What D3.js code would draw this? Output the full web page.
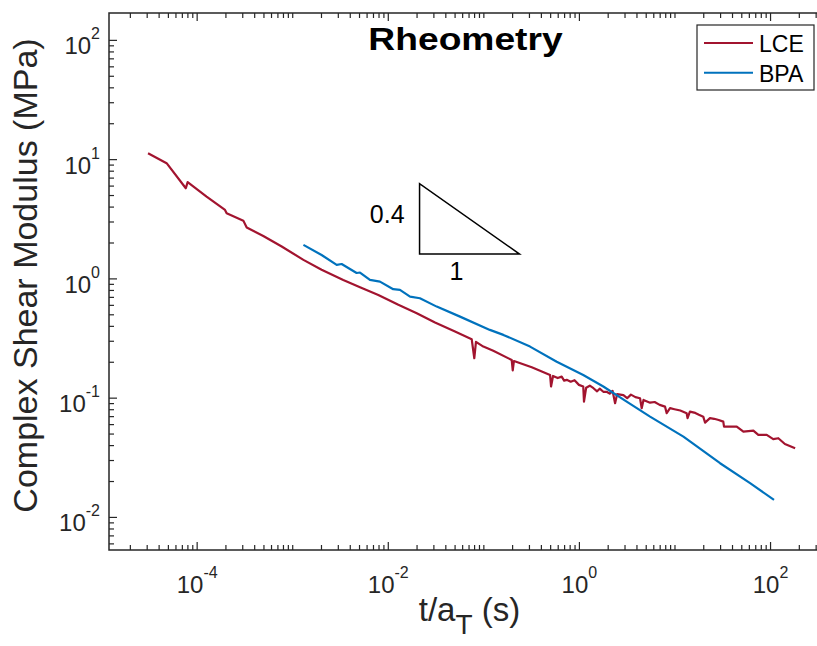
<!DOCTYPE html>
<html>
<head>
<meta charset="utf-8">
<script src="https://cdn.jsdelivr.net/npm/d3@7"></script>
<style>
  body { margin: 0; background: white; }
</style>
</head>
<body>
<script>
// data (t/aT in s, modulus in MPa)
var lceT = [3.1e-5, 4.85e-5, 7.7e-5, 8.05e-5, 1.27e-4, 1.98e-4, 2.06e-4, 3.08e-4, 3.34e-4, 4.98e-4,
    7.76e-4, 1.31e-3, 2.03e-3, 3.42e-3, 5.12e-3, 7.96e-3, 0.0129, 0.0201, 0.0312, 0.0505,
    0.0755, 0.0804, 0.0837, 0.100, 0.127, 0.198, 0.203, 0.209, 0.321, 0.499,
    0.511, 0.536, 0.60, 0.66, 0.70, 0.745, 0.82, 0.90, 1.0, 1.11,
    1.13, 1.19, 1.3, 1.42, 1.55, 1.65, 1.80, 1.95, 2.1, 2.25,
    2.39, 2.51, 2.92, 3.2, 3.5, 3.9, 4.36, 4.54, 4.74, 5.55,
    6.2, 7.0, 7.96, 8.29, 8.98, 10, 11.5, 13.4, 13.7, 14.5,
    16.5, 18, 20.0, 20.9, 23.5, 26, 29, 32.4, 33.0, 44.8,
    52.6, 66.9, 75.4, 92.3, 108, 122, 143, 183];
var lceG = [11.2, 9.25, 5.70, 6.41, 4.85, 3.75, 3.52, 3.05, 2.67, 2.27,
    1.85, 1.43, 1.18, 0.97, 0.843, 0.727, 0.600, 0.511, 0.426, 0.358,
    0.309, 0.214, 0.294, 0.268, 0.247, 0.207, 0.169, 0.203, 0.180, 0.155,
    0.124, 0.152, 0.146, 0.150, 0.139, 0.141, 0.136, 0.140, 0.128, 0.124,
    0.0927, 0.121, 0.126, 0.120, 0.113, 0.119, 0.112, 0.112, 0.108, 0.114,
    0.0898, 0.107, 0.105, 0.099, 0.106, 0.101, 0.0989, 0.0815, 0.0957, 0.0908,
    0.092, 0.087, 0.0841, 0.0741, 0.0817, 0.080, 0.078, 0.0741, 0.0673, 0.0764,
    0.0745, 0.072, 0.0693, 0.0618, 0.0673, 0.0665, 0.065, 0.0630, 0.0572, 0.0572,
    0.0519, 0.0529, 0.0487, 0.0487, 0.0449, 0.0457, 0.0409, 0.0377];
var bpaT = [1.31e-3, 2.03e-3, 2.92e-3, 3.29e-3, 4.72e-3, 5.12e-3, 6.51e-3, 8.28e-3, 0.0114, 0.0134,
    0.0171, 0.0217, 0.0325, 0.057, 0.117, 0.162, 0.308, 0.586, 1.11, 1.80,
    3.16, 5.55, 12.4, 30.0, 61.8, 110];
var bpaG = [1.91, 1.57, 1.30, 1.32, 1.11, 1.12, 0.971, 0.940, 0.812, 0.801,
    0.704, 0.682, 0.580, 0.478, 0.370, 0.336, 0.268, 0.200, 0.155, 0.124,
    0.0927, 0.0694, 0.0471, 0.0282, 0.0192, 0.0139];

var seriesNames = ["LCE", "BPA"];
var xMajor = [1e-4, 1e-2, 1e0, 1e2];
var yMajor = [1e-2, 1e-1, 1e0, 1e1, 1e2];
// slope triangle (0.4 : 1)
var triT = [0.0215, 0.239];
var triG = [1.60, 6.22];
var triLabels = ["0.4", "1"];

// settings
var width = 817, height = 646,
margin = {top: 13, right: -9, bottom: 96, left: 109},
w = width - margin.left - margin.right,
h = height - margin.top - margin.bottom,
font = {family: "'Liberation Sans', Arial, Helvetica, sans-serif"},
col = {lce: "#A2142F", bpa: "#0072BD", axis: "#262626"};

var svg = d3.select("body")
    .append("svg")
        .attr("width", width)
        .attr("height", height)
        .style("display", "block")
    .append("g")
        .attr("transform", "translate(" + margin.left + "," + margin.top + ")");

var x = d3.scaleLog().domain([1.21e-5, 385]).range([0, w]);
var y = d3.scaleLog().domain([0.00528, 168]).range([h, 0]);

function minorTicks(scale, majors) {
    var d = scale.domain(), out = [];
    for (var e = Math.floor(Math.log10(d[0])); e <= Math.ceil(Math.log10(d[1])); e++) {
        for (var k = 1; k < 10; k++) {
            var v = k * Math.pow(10, e);
            if (v >= d[0] && v <= d[1] && majors.indexOf(v) < 0) out.push(v);
        }
    }
    return out;
}
var xMinor = minorTicks(x, xMajor);
var yMinor = minorTicks(y, yMajor);

// ticks pointing inwards on all four sides
function ticks(axis, vals, len, tr) {
    var g = svg.append("g")
        .attr("transform", tr)
        .call(axis.tickValues(vals).tickSize(-len).tickSizeOuter(0).tickFormat(""));
    g.select(".domain").remove();
    g.selectAll(".tick line").attr("stroke", col.axis).attr("stroke-width", 1.2);
    return g;
}
ticks(d3.axisBottom(x), xMinor, 5, "translate(0," + h + ")");
ticks(d3.axisTop(x), xMinor, 5, "translate(0,0)");
ticks(d3.axisLeft(y), yMinor, 5, "translate(0,0)");
ticks(d3.axisRight(y), yMinor, 5, "translate(" + w + ",0)");
var xAxis = ticks(d3.axisBottom(x), xMajor, 8, "translate(0," + h + ")");
ticks(d3.axisTop(x), xMajor, 8, "translate(0,0)");
var yAxis = ticks(d3.axisLeft(y), yMajor, 8, "translate(0,0)");
ticks(d3.axisRight(y), yMajor, 8, "translate(" + w + ",0)");

// box
svg.append("rect")
    .attr("width", w)
    .attr("height", h)
    .attr("fill", "none")
    .attr("stroke", col.axis)
    .attr("stroke-width", 1.5);

// 10^n labels
function powLabel(sel) {
    sel.each(function(d) {
        var t = d3.select(this).text(null)
            .attr("fill", "#262626")
            .attr("font-family", font.family)
            .attr("font-size", "24px");
        t.append("tspan").text("10");
        t.append("tspan")
            .attr("dy", -15)
            .attr("font-size", "16px")
            .text(Math.round(Math.log10(d)));
    });
}
xAxis.selectAll(".tick text")
    .call(powLabel)
    .attr("y", 43)
    .attr("dy", null);
yAxis.selectAll(".tick text")
    .call(powLabel)
    .attr("x", -9)
    .attr("dy", 14);

// lines
var line = d3.line()
    .x(function(d) { return x(d[0]); })
    .y(function(d) { return y(d[1]); });

svg.append("path")
    .datum(d3.zip(lceT, lceG))
    .attr("d", line)
    .attr("fill", "none")
    .attr("stroke", col.lce)
    .attr("stroke-width", 2.2)
    .attr("stroke-linejoin", "round");

svg.append("path")
    .datum(d3.zip(bpaT, bpaG))
    .attr("d", line)
    .attr("fill", "none")
    .attr("stroke", col.bpa)
    .attr("stroke-width", 2.2)
    .attr("stroke-linejoin", "round");

// slope triangle
svg.append("path")
    .attr("d", "M" + x(triT[0]) + "," + y(triG[1]) +
        "L" + x(triT[0]) + "," + y(triG[0]) +
        "L" + x(triT[1]) + "," + y(triG[0]) + "Z")
    .attr("fill", "none")
    .attr("stroke", "black")
    .attr("stroke-width", 1.5);

svg.append("text")
    .attr("class", "tri")
    .attr("x", x(triT[0]) - 15)
    .attr("y", (y(triG[0]) + y(triG[1])) / 2 + 4)
    .attr("text-anchor", "end")
    .text(triLabels[0]);
svg.append("text")
    .attr("class", "tri")
    .attr("x", (x(triT[0]) + x(triT[1])) / 2 - 13)
    .attr("y", y(triG[0]) + 26)
    .attr("text-anchor", "middle")
    .text(triLabels[1]);
svg.selectAll(".tri")
    .attr("font-family", font.family)
    .attr("font-size", "25px");

// title
svg.append("text")
    .attr("transform", "translate(" + (w / 2 - 2) + ",37) scale(1.2,1)")
    .attr("text-anchor", "middle")
    .attr("font-family", font.family)
    .attr("font-weight", "bold")
    .attr("font-size", "31px")
    .text("Rheometry");

// axis labels
var xl = svg.append("text")
    .attr("x", w / 2 + 2)
    .attr("y", h + 71)
    .attr("text-anchor", "middle")
    .attr("fill", "#262626")
    .attr("font-family", font.family)
    .attr("font-size", "33px");
xl.append("tspan").text("t/a");
xl.append("tspan").attr("dy", 13).attr("font-size", "28px").text("T");
xl.append("tspan").attr("dy", -13).text(" (s)");

svg.append("text")
    .attr("transform", "rotate(-90)")
    .attr("x", -h / 2 + 6)
    .attr("y", -72)
    .attr("text-anchor", "middle")
    .attr("fill", "#262626")
    .attr("font-family", font.family)
    .attr("font-size", "34px")
    .text("Complex Shear Modulus (MPa)");

// legend
var legend = svg.append("g")
    .attr("transform", "translate(" + (697 - margin.left) + "," + (25 - margin.top) + ")");
legend.append("rect")
    .attr("width", 117)
    .attr("height", 65)
    .attr("fill", "white")
    .attr("stroke", col.axis)
    .attr("stroke-width", 1.2);
[col.lce, col.bpa].forEach(function(c, i) {
    legend.append("line")
        .attr("x1", 7).attr("x2", 56)
        .attr("y1", 18 + i * 29.7).attr("y2", 18 + i * 29.7)
        .attr("stroke", c)
        .attr("stroke-width", 2);
    legend.append("text")
        .attr("x", 62)
        .attr("y", 26.7 + i * 30)
        .attr("font-family", font.family)
        .attr("font-size", "23px")
        .text(seriesNames[i]);
});
</script>
</body>
</html>
